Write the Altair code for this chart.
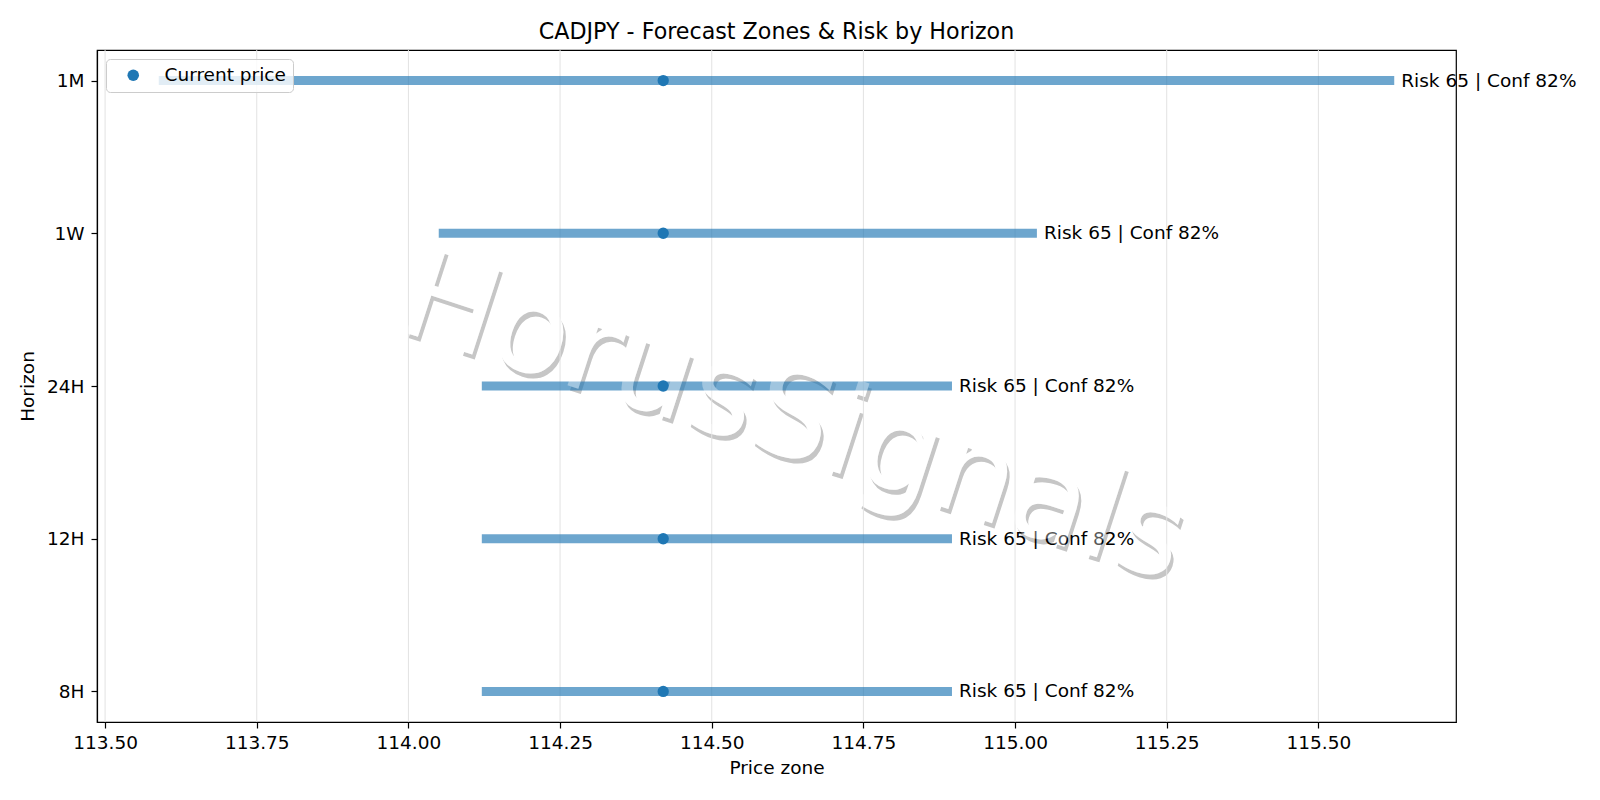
"""Forecast zones & risk by horizon for CADJPY, rebuilt with Altair."""

import pandas as pd
import altair as alt

horizons = ["1M", "1W", "24H", "12H", "8H"]
zone_low = [113.5885, 114.05, 114.121, 114.121, 114.121]
zone_high = [115.625, 115.036, 114.896, 114.896, 114.896]
current_price = [114.42, 114.42, 114.42, 114.42, 114.42]
risk = [65, 65, 65, 65, 65]
conf = [82, 82, 82, 82, 82]
x_ticks = [113.50, 113.75, 114.00, 114.25, 114.50, 114.75, 115.00, 115.25, 115.50]

df = pd.DataFrame(
    {
        "horizon": horizons,
        "low": zone_low,
        "high": zone_high,
        "current": current_price,
        "series": ["Current price"] * len(horizons),
        "label": [f"Risk {r} | Conf {c}%" for r, c in zip(risk, conf)],
    }
)
grid_df = pd.DataFrame({"tick": x_ticks})
mark_df = pd.DataFrame({"t": ["HorusSignals"]})

W, H = 1359, 672
FONT = "DejaVu Sans"
FS = 18.5  # 10pt at the source figure's dpi
BLUE = "#1f77b4"

# matplotlib-like 5% margins around the zone range
span = max(zone_high) - min(zone_low)
x_dom = [min(zone_low) - 0.05 * span, max(zone_high) + 0.05 * span]
x_scale = alt.Scale(domain=x_dom, nice=False, zero=False)

# watermark sits around the centre of the figure
WM_X, WM_Y = 697, 369


def watermark(color, opacity, dx=0, dy=0):
    return alt.Chart(mark_df).mark_text(
        fontSize=125, angle=18, align="center", baseline="middle",
        color=color, opacity=opacity, dx=dx, dy=dy, font=FONT,
    ).encode(x=alt.value(WM_X), y=alt.value(WM_Y), text="t:N")


grid = alt.Chart(grid_df).mark_rule(color="#e2e2e2", strokeWidth=1).encode(
    alt.X(
        "tick:Q",
        scale=x_scale,
        axis=alt.Axis(
            title="Price zone",
            values=x_ticks,
            format=".2f",
            titleFontSize=FS,
            titleFontWeight="normal",
            titlePadding=7,
            labelFontSize=FS,
            labelPadding=5,
            tickSize=6,
            grid=False,
        ),
    )
)

zones = alt.Chart(df).mark_rule(strokeWidth=9, opacity=0.65, color=BLUE, strokeCap="butt").encode(
    alt.X("low:Q", scale=x_scale),
    x2="high:Q",
    y=alt.Y(
        "horizon:N",
        sort=horizons,
        scale=alt.Scale(type="point", padding=0.2),
        axis=alt.Axis(
            title="Horizon",
            titleFontSize=FS,
            titleFontWeight="normal",
            titlePadding=9,
            labelFontSize=FS,
            labelPadding=7,
            tickSize=6,
            grid=False,
        ),
    ),
)

points = alt.Chart(df).mark_circle(size=128, opacity=1).encode(
    x=alt.X("current:Q", scale=x_scale),
    y=alt.Y("horizon:N", sort=horizons),
    color=alt.Color(
        "series:N",
        scale=alt.Scale(range=[BLUE]),
        legend=alt.Legend(
            title=None,
            orient="top-left",
            offset=9,
            padding=7,
            symbolOffset=11,
            labelOffset=22,
            labelFontSize=FS,
            symbolSize=133,
            symbolType="circle",
            symbolOpacity=1,
            strokeColor="#cccccc",
            fillColor="rgba(255,255,255,0.8)",
            cornerRadius=4,
        ),
    ),
)

labels = alt.Chart(df).mark_text(align="left", baseline="middle", dx=7, fontSize=FS, color="black").encode(
    x=alt.X("high:Q", scale=x_scale),
    y=alt.Y("horizon:N", sort=horizons),
    text="label:N",
)

chart = (
    alt.layer(
        watermark("#c6c6c6", 1, dx=4, dy=4),
        watermark("white", 1),
        grid,
        zones,
        points,
        labels,
        watermark("white", 0.35),
    )
    .properties(
        width=W,
        height=H,
        title=alt.TitleParams(
            "CADJPY - Forecast Zones & Risk by Horizon",
            fontSize=22.2,
            fontWeight="normal",
            offset=6,
        ),
        autosize=alt.AutoSizeParams(type="none"),
        padding={"left": 89, "top": 42, "right": 125, "bottom": 60},
    )
    .configure(font=FONT)
    .configure_view(stroke="black", strokeWidth=1.2)
    .configure_axis(
        domainColor="black",
        domainWidth=1.2,
        tickColor="black",
        tickWidth=1.2,
        labelColor="black",
        titleColor="black",
        labelFont=FONT,
        titleFont=FONT,
    )
    .configure_title(font=FONT, color="black", anchor="middle")
    .configure_legend(labelFont=FONT, labelColor="black")
)

chart.save("out.html", embed_options={"renderer": "svg", "actions": False})
